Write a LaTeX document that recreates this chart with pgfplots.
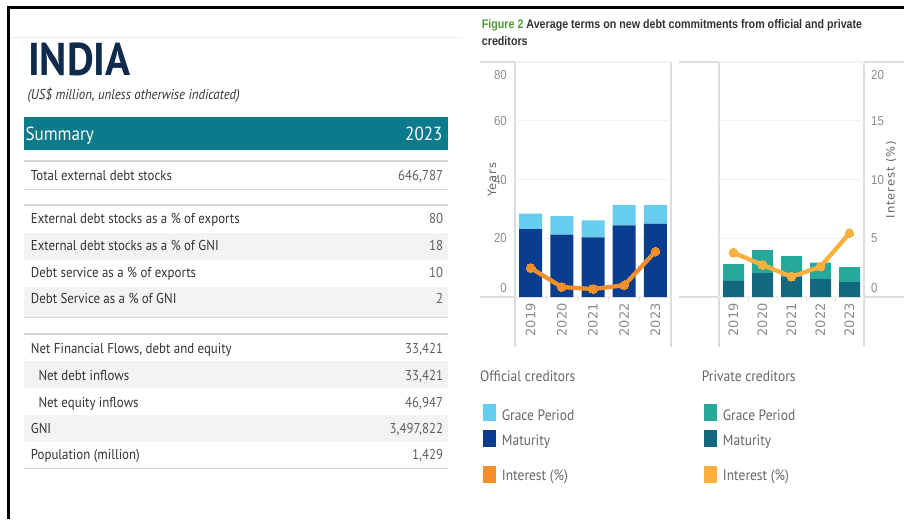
\documentclass[border=0pt]{standalone}
\usepackage{fontspec}
\usepackage{pgfplots}
\usepackage{pgfplotstable}
\pgfplotsset{compat=1.18}

\setmainfont{PT Sans}
\newfontfamily\tab[FakeStretch=0.9]{PT Sans}
\newfontfamily\chartfont[FakeStretch=0.88]{Liberation Sans}
\newfontfamily\titlefont[FakeStretch=0.855]{Liberation Sans}
\newfontfamily\lbl[LetterSpace=8]{DejaVu Sans}
\newfontfamily\yrs{DejaVu Sans}

\definecolor{navy}{HTML}{102A4C}
\definecolor{teal}{HTML}{0B7A8A}
\definecolor{band}{HTML}{F3F3F3}
\definecolor{rule}{HTML}{D6D6D6}
\definecolor{txt}{HTML}{333333}
\definecolor{valc}{HTML}{5F5F5F}
\definecolor{framec}{HTML}{DDDDDD}
\definecolor{gridc}{HTML}{F1F1F1}
\definecolor{tickc}{HTML}{8C8C8C}
\definecolor{labc}{HTML}{666666}
\definecolor{figgreen}{HTML}{4F9A36}
\definecolor{offgrace}{HTML}{66CDEE}
\definecolor{offmat}{HTML}{0B3D8F}
\definecolor{offint}{HTML}{F28E2B}
\definecolor{prvgrace}{HTML}{26A89B}
\definecolor{prvmat}{HTML}{13677F}
\definecolor{prvint}{HTML}{FBAF3C}

% average terms, years (maturity, grace) and interest (%)
\pgfplotstableread{
x mat grace int
0 23.1 5.3 2.47
1 21.2 6.3 0.85
2 20.3 5.8 0.68
3 24.4 6.9 1.00
4 24.9 6.4 3.86
}\official
\pgfplotstableread{
x mat grace int
0 5.45 5.75 3.77
1 8.1 7.9 2.73
2 6.9 7.0 1.73
3 6.1 5.6 2.58
4 5.1 5.1 5.43
}\private

\pgfplotsset{
  panel/.style={
    scale only axis, height=235pt,
    xmin=-0.5, xmax=4.5, ymin=0, ymax=80,
    axis line style={draw=none},
    xtick={0,...,4}, xticklabels={2019,2020,2021,2022,2023},
    ytick={0,20,40,60,80},
    yticklabels={\raisebox{9pt}{0},20,40,60,\raisebox{-13pt}{80}},
    ymajorgrids, major grid style={draw=gridc, line width=1.2pt},
    major tick length=0pt,
    minor xtick={0.5,1.5,2.5,3.5}, minor tick length=4pt,
    minor tick style={draw=framec, line width=1pt},
    tick align=outside, xtick pos=left, ytick pos=left,
    xticklabel style={rotate=90, anchor=east, inner sep=0pt,
      font=\yrs\fontsize{13}{13}\selectfont, text=tickc},
    xticklabel shift=6pt,
    yticklabel style={anchor=base east, inner sep=0pt, xshift=-8pt, yshift=-4.6pt,
      font=\chartfont\fontsize{13}{13}\selectfont, text=tickc},
    ybar stacked,
  },
  intpanel/.style={
    scale only axis, height=235pt,
    xmin=-0.5, xmax=4.5, ymin=0, ymax=20,
  },
  intline/.style={line width=4.3pt, line join=round, line cap=round, mark=*, mark size=4.4pt,
    mark options={fill=#1, draw=#1, line width=0pt}, color=#1},
}

\tikzset{
  lab/.style={inner sep=0pt, text=txt, font=\tab\fontsize{14.3}{16}\selectfont},
  val/.style={inner sep=0pt, text=valc, font=\tab\fontsize{14.3}{16}\selectfont, anchor=base east},
  leg/.style={inner sep=0pt, text=labc, font=\tab\fontsize{15}{16}\selectfont, anchor=base west},
}

\newcommand\row[4]{%
  \node[lab, anchor=base west] at (#1,#2) {#3};
  \node[val] at (443.3,#2) {#4};}

\begin{document}
\begin{tikzpicture}
\path[use as bounding box] (0pt,0pt) rectangle (904pt,-519pt);

\begin{scope}[x=1pt, y=-1pt]
% outer frame
\draw[line width=3pt, black] (904,8) -- (8,8) -- (8,519);
\draw[line width=1.2pt, gray!15] (9.5,37.7) -- (462,37.7);

% ---------- summary table ----------
\node[inner sep=0pt, anchor=base west, text=navy,
  font=\tab\bfseries\fontsize{46}{46}\selectfont] at (28,75.5) {INDIA};
\node[inner sep=0pt, anchor=base west, text=txt,
  font=\tab\itshape\fontsize{14.3}{16}\selectfont] at (27.3,99.3)
  {(US\$ million, unless otherwise indicated)};

\fill[teal] (24,117.3) rectangle (448.3,150);
\node[inner sep=0pt, anchor=base west, text=white,
  font=\tab\fontsize{19}{19}\selectfont] at (25.3,140.5) {Summary};
\node[inner sep=0pt, anchor=base east, text=white,
  font=\tab\fontsize{19}{19}\selectfont] at (442.7,140.5) {2023};

\fill[band] (24,233.3) rectangle (448.3,260);
\fill[band] (24,287) rectangle (448.3,316.5);
\fill[band] (24,360.5) rectangle (448.3,388);
\fill[band] (24,414.5) rectangle (448.3,441.5);

\foreach \yy in {161,189.3,205,317.3,334,468.3}
  \draw[line width=1.6pt, rule] (24,\yy) -- (448.3,\yy);

\row{30.7}{180.7}{Total external debt stocks}{646,787}
\row{30.7}{223.3}{External debt stocks as a \% of exports}{80}
\row{30.7}{250.3}{External debt stocks as a \% of GNI}{18}
\row{30.7}{277.3}{Debt service as a \% of exports}{10}
\row{30.7}{303.6}{Debt Service as a \% of GNI}{2}
\row{30.7}{353.3}{Net Financial Flows, debt and equity}{33,421}
\row{38.3}{380}{Net debt inflows}{33,421}
\row{38.3}{407.3}{Net equity inflows}{46,947}
\row{30.7}{433.3}{GNI}{3,497,822}
\row{30.7}{459.3}{Population (million)}{1,429}

% ---------- figure title ----------
\node[inner sep=0pt, anchor=base west, text=txt,
  font=\titlefont\bfseries\fontsize{12.5}{14}\selectfont] at (481.7,28.3)
  {\textcolor{figgreen}{Figure 2} Average terms on new debt commitments from official and private};
\node[inner sep=0pt, anchor=base west, text=txt,
  font=\titlefont\bfseries\fontsize{12.5}{14}\selectfont] at (481.7,45.7) {creditors};

% ---------- panel frames ----------
\begin{scope}[draw=framec, line width=1.3pt]
  \draw (480,62) -- (671,62);
  \draw (515,62) -- (515,347);
  \draw (671,62) -- (671,347);
  \draw (480,297) -- (671,297);
  \draw (679,62) -- (904,62);
  \draw (719,62) -- (719,347);
  \draw (864,62) -- (864,347);
  \draw (679,297) -- (904,297);
\end{scope}

% ---------- legends ----------
\node[leg] at (480,381.7) {Official creditors};
\fill[offgrace] (482.7,404.3) rectangle (496,421);
\node[leg] at (501.7,420) {Grace Period};
\fill[offmat] (482.7,430) rectangle (496,446.7);
\node[leg] at (501.7,445.7) {Maturity};
\fill[offint] (482.7,466) rectangle (496,482.7);
\node[leg] at (501.7,480.5) {Interest (\%)};

\node[leg] at (701.7,381.7) {Private creditors};
\fill[prvgrace] (704,404.3) rectangle (717.3,421);
\node[leg] at (722.7,420) {Grace Period};
\fill[prvmat] (704,430) rectangle (717.3,446.7);
\node[leg] at (722.7,445.7) {Maturity};
\fill[prvint] (704,466) rectangle (717.3,482.7);
\node[leg] at (722.7,480.5) {Interest (\%)};
\end{scope}

% ---------- official creditors ----------
\begin{axis}[panel, at={(515pt,-297pt)}, anchor=south west, width=156pt, bar width=23pt,
  ylabel={Years},
  every axis y label/.style={at={(axis description cs:-0.147,0.5)}, rotate=90, anchor=center,
    font=\lbl\fontsize{11.5}{12}\selectfont, text=labc}]
\addplot[fill=offmat, draw=none] table[x=x, y=mat] {\official};
\addplot[fill=offgrace, draw=none] table[x=x, y=grace] {\official};
\end{axis}
\begin{axis}[intpanel, at={(515pt,-297pt)}, anchor=south west, width=156pt, hide axis, clip=false]
\addplot[intline=offint] table[x=x, y=int] {\official};
\end{axis}

% ---------- private creditors ----------
\begin{axis}[panel, at={(719pt,-297pt)}, anchor=south west, width=145pt, bar width=21pt,
  yticklabels={}, yticklabel=\mbox{}]
\addplot[fill=prvmat, draw=none] table[x=x, y=mat] {\private};
\addplot[fill=prvgrace, draw=none] table[x=x, y=grace] {\private};
\end{axis}
\begin{axis}[intpanel, at={(719pt,-297pt)}, anchor=south west, width=145pt, clip=false,
  axis x line=none, axis y line*=right, axis line style={draw=none},
  ytick={0,5,10,15,20},
  yticklabels={\raisebox{9pt}{0},5,10,15,\raisebox{-13pt}{20}},
  major tick length=0pt,
  yticklabel style={anchor=base west, inner sep=0pt, xshift=7pt, yshift=-4.6pt,
    font=\chartfont\fontsize{13}{13}\selectfont, text=tickc},
  ylabel={Interest (\%)},
  every axis y label/.style={at={(axis description cs:1.186,0.5)}, rotate=90, anchor=center,
    font=\lbl\fontsize{11.5}{12}\selectfont, text=labc}]
\addplot[intline=prvint] table[x=x, y=int] {\private};
\end{axis}
\end{tikzpicture}
\end{document}
